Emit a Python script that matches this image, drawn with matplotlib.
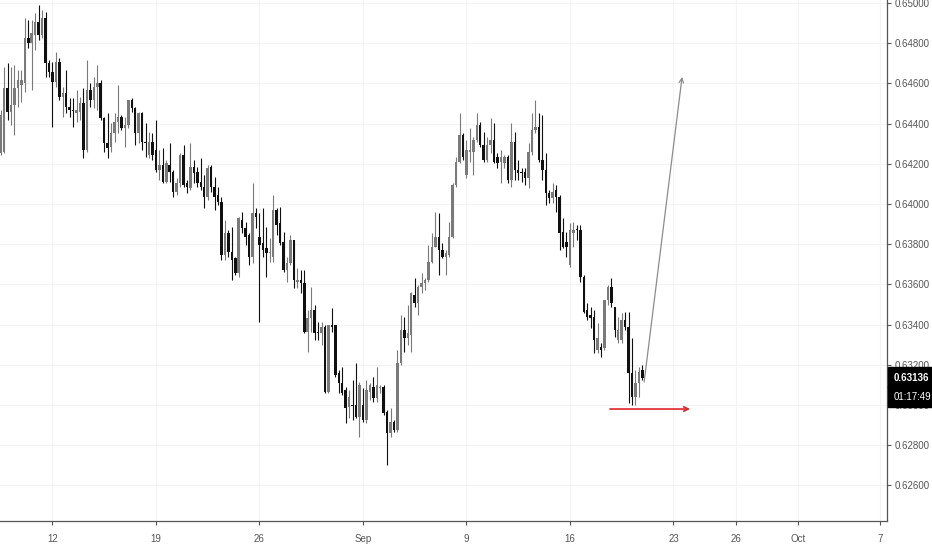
import numpy as np
import matplotlib.pyplot as plt
import matplotlib.transforms as mtransforms

plt.rcParams['font.family'] = ['Liberation Sans', 'DejaVu Sans']

# 4H candles, NZD/USD-like
opens = [
    0.64254, 0.64259, 0.64577, 0.64458, 0.64493, 0.64577, 0.64592, 0.64602, 0.64826, 0.64801,
    0.64841, 0.64906, 0.64841, 0.64925, 0.64702, 0.64657, 0.64607, 0.64707, 0.64532, 0.64552,
    0.64483, 0.64468, 0.64453, 0.64458, 0.64503, 0.64269, 0.64567, 0.64517, 0.64582, 0.64602,
    0.64428, 0.64304, 0.64284, 0.64353, 0.64408, 0.64433, 0.64378, 0.64393,
    0.64517, 0.64478, 0.64353, 0.64453, 0.64309, 0.64244, 0.64309, 0.64269, 0.64169, 0.64194,
    0.64110, 0.64194, 0.64159, 0.64060, 0.64105, 0.64244, 0.64105, 0.64080, 0.64184, 0.64159,
    0.64110, 0.64085, 0.64035, 0.64184, 0.64085, 0.64045, 0.64010, 0.63746, 0.63856, 0.63761,
    0.63731, 0.63657, 0.63920, 0.63881, 0.63846, 0.63736, 0.63955,
    0.63836, 0.63806, 0.63781, 0.63756, 0.63736, 0.63970, 0.63906, 0.63811, 0.63672, 0.63707,
    0.63821, 0.63612, 0.63622, 0.63607, 0.63363, 0.63433, 0.63473, 0.63363, 0.63358, 0.63388,
    0.63065, 0.63398, 0.63398, 0.63159, 0.63110, 0.63075, 0.62990, 0.63000, 0.63000, 0.62940,
    0.63000, 0.62925, 0.63065, 0.63090, 0.63035, 0.63085, 0.63090,
    0.62965, 0.62861, 0.62916, 0.62876, 0.63209, 0.63373, 0.63333, 0.63348, 0.63547, 0.63508,
    0.63587, 0.63607, 0.63622, 0.63712, 0.63786, 0.63836, 0.63771, 0.63736, 0.63746, 0.63836,
    0.64095, 0.64209, 0.64343, 0.64144, 0.64259, 0.64259, 0.64319, 0.64393, 0.64294, 0.64219,
    0.64294, 0.64319, 0.64234, 0.64209, 0.64204, 0.64234, 0.64120,
    0.64309, 0.64169, 0.64159, 0.64159, 0.64129, 0.64259, 0.64368, 0.64383, 0.64219, 0.64169,
    0.64055, 0.64030, 0.64070, 0.64035, 0.63861, 0.63811, 0.63697, 0.63856, 0.63876, 0.63871,
    0.63637, 0.63473, 0.63448, 0.63438, 0.63274, 0.63289, 0.63284, 0.63522, 0.63587, 0.63488,
    0.63323, 0.63323, 0.63423, 0.63388, 0.63159, 0.63040, 0.63110, 0.63174,
]
highs = [
    0.64468, 0.64682, 0.64702, 0.64682, 0.64692, 0.64667, 0.64667, 0.64925, 0.64916, 0.64916,
    0.64950, 0.64990, 0.64965, 0.64955, 0.64717, 0.64707, 0.64756, 0.64726, 0.64582, 0.64667,
    0.64527, 0.64527, 0.64567, 0.64532, 0.64577, 0.64717, 0.64602, 0.64632, 0.64692, 0.64617,
    0.64433, 0.64453, 0.64403, 0.64453, 0.64592, 0.64443, 0.64433, 0.64517,
    0.64527, 0.64483, 0.64458, 0.64458, 0.64403, 0.64358, 0.64353, 0.64418, 0.64269, 0.64279,
    0.64219, 0.64304, 0.64169, 0.64129, 0.64254, 0.64294, 0.64120, 0.64304, 0.64219, 0.64184,
    0.64229, 0.64144, 0.64194, 0.64194, 0.64134, 0.64085, 0.64035, 0.63921, 0.63871, 0.63886,
    0.63736, 0.63935, 0.63960, 0.63911, 0.63856, 0.64105, 0.63980,
    0.63955, 0.63980, 0.63886, 0.63831, 0.64045, 0.63980, 0.63985, 0.63861, 0.63736, 0.63846,
    0.63821, 0.63682, 0.63672, 0.63672, 0.63473, 0.63587, 0.63498, 0.63413, 0.63413, 0.63398,
    0.63398, 0.63483, 0.63398, 0.63174, 0.63189, 0.63090, 0.63075, 0.63125, 0.63209, 0.63115,
    0.63085, 0.63125, 0.63110, 0.63139, 0.63189, 0.63100, 0.63100,
    0.62975, 0.62985, 0.62925, 0.63274, 0.63448, 0.63438, 0.63498, 0.63562, 0.63632, 0.63597,
    0.63657, 0.63632, 0.63796, 0.63856, 0.63960, 0.63955, 0.63806, 0.63771, 0.63911, 0.64105,
    0.64234, 0.64453, 0.64353, 0.64319, 0.64378, 0.64333, 0.64453, 0.64408, 0.64358, 0.64333,
    0.64428, 0.64403, 0.64254, 0.64269, 0.64244, 0.64244, 0.64403,
    0.64358, 0.64219, 0.64179, 0.64179, 0.64304, 0.64453, 0.64517, 0.64453, 0.64443, 0.64254,
    0.64070, 0.64105, 0.64095, 0.64045, 0.63930, 0.63861, 0.63906, 0.63911, 0.63896, 0.63896,
    0.63647, 0.63508, 0.63488, 0.63473, 0.63408, 0.63309, 0.63522, 0.63597, 0.63632, 0.63488,
    0.63438, 0.63458, 0.63463, 0.63463, 0.63333, 0.63174, 0.63189, 0.63199,
]
lows = [
    0.64244, 0.64254, 0.64418, 0.64393, 0.64343, 0.64483, 0.64508, 0.64557, 0.64776, 0.64567,
    0.64766, 0.64816, 0.64826, 0.64632, 0.64632, 0.64383, 0.64582, 0.64517, 0.64433, 0.64453,
    0.64433, 0.64383, 0.64408, 0.64418, 0.64229, 0.64259, 0.64483, 0.64478, 0.64468, 0.64418,
    0.64259, 0.64229, 0.64259, 0.64309, 0.64353, 0.64368, 0.64284, 0.64378,
    0.64458, 0.64294, 0.64304, 0.64269, 0.64234, 0.64229, 0.64219, 0.64159, 0.64120, 0.64105,
    0.64105, 0.64110, 0.64035, 0.64045, 0.64085, 0.64085, 0.64055, 0.64070, 0.64105, 0.64085,
    0.64070, 0.63980, 0.64020, 0.64060, 0.63970, 0.63995, 0.63722, 0.63722, 0.63736, 0.63622,
    0.63647, 0.63637, 0.63856, 0.63796, 0.63697, 0.63707, 0.63881,
    0.63413, 0.63736, 0.63637, 0.63712, 0.63712, 0.63846, 0.63796, 0.63662, 0.63612, 0.63697,
    0.63582, 0.63582, 0.63557, 0.63358, 0.63264, 0.63363, 0.63323, 0.63323, 0.63299, 0.63060,
    0.63060, 0.63363, 0.63139, 0.63060, 0.63050, 0.62911, 0.62935, 0.62925, 0.62935, 0.62841,
    0.62916, 0.62911, 0.63025, 0.63015, 0.63015, 0.63060, 0.62950,
    0.62702, 0.62841, 0.62866, 0.62866, 0.63199, 0.63264, 0.63299, 0.63264, 0.63488, 0.63448,
    0.63557, 0.63572, 0.63612, 0.63707, 0.63786, 0.63647, 0.63731, 0.63647, 0.63736, 0.63831,
    0.64085, 0.64204, 0.64219, 0.64129, 0.64209, 0.64144, 0.64309, 0.64284, 0.64209, 0.64209,
    0.64254, 0.64204, 0.64179, 0.64105, 0.64179, 0.64105, 0.64085,
    0.64120, 0.64120, 0.64110, 0.64095, 0.64080, 0.64244, 0.64353, 0.64209, 0.64120, 0.63995,
    0.64005, 0.64005, 0.63960, 0.63771, 0.63781, 0.63736, 0.63687, 0.63786, 0.63821, 0.63612,
    0.63458, 0.63423, 0.63383, 0.63259, 0.63259, 0.63239, 0.63274, 0.63498, 0.63488, 0.63338,
    0.63309, 0.63309, 0.63373, 0.63010, 0.63000, 0.63000, 0.63040, 0.63125,
]
closes = [
    0.64443, 0.64577, 0.64458, 0.64493, 0.64577, 0.64617, 0.64617, 0.64826, 0.64801, 0.64851,
    0.64906, 0.64841, 0.64925, 0.64702, 0.64657, 0.64607, 0.64707, 0.64532, 0.64552, 0.64483,
    0.64468, 0.64463, 0.64468, 0.64503, 0.64269, 0.64567, 0.64517, 0.64582, 0.64602, 0.64428,
    0.64304, 0.64279, 0.64353, 0.64408, 0.64433, 0.64378, 0.64393, 0.64517,
    0.64478, 0.64353, 0.64453, 0.64309, 0.64304, 0.64309, 0.64244, 0.64169, 0.64194, 0.64110,
    0.64204, 0.64159, 0.64060, 0.64105, 0.64244, 0.64095, 0.64085, 0.64184, 0.64154, 0.64105,
    0.64085, 0.64035, 0.64179, 0.64085, 0.64035, 0.64010, 0.63746, 0.63856, 0.63761, 0.63722,
    0.63657, 0.63930, 0.63881, 0.63836, 0.63736, 0.63955, 0.63935,
    0.63796, 0.63771, 0.63756, 0.63761, 0.63970, 0.63896, 0.63806, 0.63672, 0.63707, 0.63821,
    0.63622, 0.63622, 0.63607, 0.63363, 0.63433, 0.63473, 0.63358, 0.63358, 0.63388, 0.63065,
    0.63398, 0.63388, 0.63149, 0.63110, 0.63060, 0.62985, 0.63040, 0.62995, 0.62940, 0.63100,
    0.62925, 0.63075, 0.63100, 0.63035, 0.63100, 0.63090, 0.62960,
    0.62861, 0.62916, 0.62876, 0.63209, 0.63373, 0.63333, 0.63358, 0.63557, 0.63508, 0.63587,
    0.63607, 0.63622, 0.63712, 0.63786, 0.63836, 0.63771, 0.63736, 0.63756, 0.63836, 0.64095,
    0.64209, 0.64343, 0.64234, 0.64269, 0.64269, 0.64319, 0.64393, 0.64294, 0.64219, 0.64294,
    0.64319, 0.64209, 0.64204, 0.64234, 0.64234, 0.64120, 0.64309,
    0.64169, 0.64154, 0.64154, 0.64129, 0.64259, 0.64368, 0.64383, 0.64219, 0.64169, 0.64055,
    0.64030, 0.64060, 0.64035, 0.63856, 0.63786, 0.63786, 0.63871, 0.63871, 0.63871, 0.63637,
    0.63463, 0.63438, 0.63433, 0.63323, 0.63333, 0.63274, 0.63522, 0.63587, 0.63508, 0.63373,
    0.63373, 0.63423, 0.63388, 0.63159, 0.63040, 0.63110, 0.63164, 0.63136,
]

# first candle of each labelled day (candle index), and its label
day_pos = [15, 45, 75, 105, 135, 165, 195, 213, 231, 255]
day_labels = ['12', '19', '26', 'Sep', '9', '16', '23', '26', 'Oct', '7']
price_ticks = [0.626, 0.628, 0.630, 0.632, 0.634, 0.636, 0.638, 0.640,
               0.642, 0.644, 0.646, 0.648, 0.650]

# drawings on the chart: (candle index, price)
up_arrow = [(186.5, 0.63114), (197.5, 0.64632)]
support_arrow = [(176.6, 0.62980), (199.8, 0.62980)]
countdown = '01:17:49'

opens = np.array(opens)
highs = np.array(highs)
lows = np.array(lows)
closes = np.array(closes)
x = np.arange(len(closes))

fig = plt.figure(figsize=(9.32, 5.5), dpi=100)
ax = fig.add_axes([0, 29/550, 887/932, 521/550])

col = np.where(closes >= opens, '#7a7a7a', '#101010')
ax.vlines(x, lows, highs, colors=col, linewidth=0.8, zorder=3)
body = np.maximum(np.abs(closes - opens), 0.00003)
ax.bar(x, body, bottom=np.minimum(opens, closes), width=0.72, color=col,
       linewidth=0, zorder=3)

ax.annotate('', xy=up_arrow[1], xytext=up_arrow[0],
            arrowprops=dict(arrowstyle='->', color='#8c8c8c', lw=0.9,
                            shrinkA=0, shrinkB=0, mutation_scale=8), zorder=4)
ax.annotate('', xy=support_arrow[1], xytext=support_arrow[0],
            arrowprops=dict(arrowstyle='->', color='#e0242c', lw=1.2,
                            shrinkA=0, shrinkB=0, mutation_scale=8), zorder=4)

ax.set_xlim(-0.2, 256.9)
ax.set_ylim(0.624229, 0.650149)
ax.yaxis.tick_right()
ax.set_yticks(price_ticks)
ax.set_yticklabels([f'{p:.5f}' for p in price_ticks])
ax.set_xticks(day_pos)
ax.set_xticklabels(day_labels)

for s in ['top', 'left']:
    ax.spines[s].set_visible(False)
for s in ['right', 'bottom']:
    ax.spines[s].set_color('#555555')
    ax.spines[s].set_linewidth(0.9)
ax.tick_params(axis='both', colors='#555555', labelcolor='#555555',
               labelsize=7, length=3, width=0.8, direction='out')
ax.tick_params(axis='x', pad=6)
ax.tick_params(axis='y', pad=2.5)
ax.grid(color='#f4f4f4', linewidth=0.8)
ax.set_axisbelow(True)

# last price and countdown boxes on the price scale
last = closes[-1]
trans = mtransforms.blended_transform_factory(ax.transAxes, ax.transData)
ax.text(1.0075, last, f'{last:.5f}', transform=trans, ha='left', va='center',
        color='white', fontsize=7, fontweight='bold', clip_on=False, zorder=10,
        bbox=dict(boxstyle='square,pad=0.55', fc='black', ec='black'))
trans2 = mtransforms.offset_copy(trans, fig=fig, x=0, y=-19, units='dots')
ax.text(1.0075, last, countdown, transform=trans2, ha='left', va='center',
        color='white', fontsize=7, clip_on=False, zorder=10,
        bbox=dict(boxstyle='square,pad=0.55', fc='black', ec='black'))

fig.savefig('out.png', dpi=100, facecolor='white')
